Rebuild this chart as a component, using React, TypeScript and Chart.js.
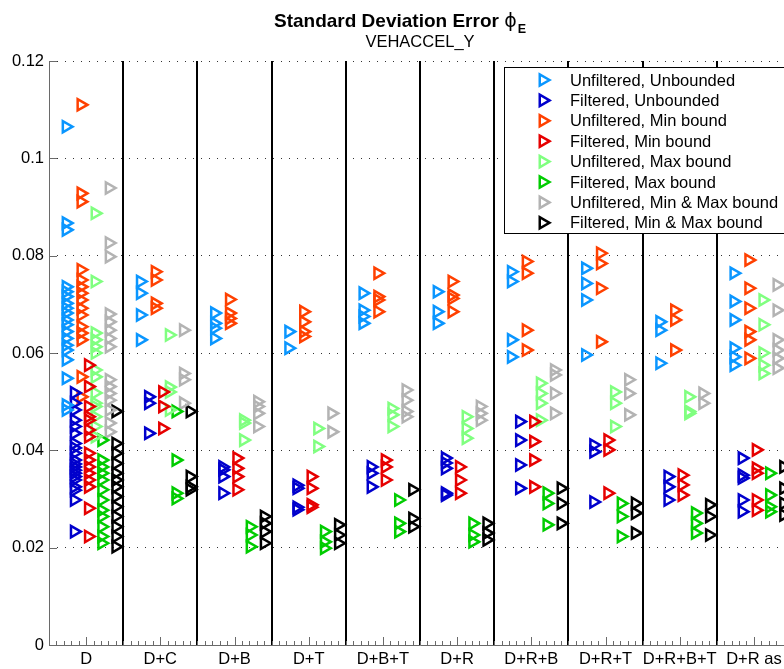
import React, { useEffect, useRef } from 'react';
import { Chart, registerables } from 'chart.js';

Chart.register(...registerables);

const categories = ['D', 'D+C', 'D+B', 'D+T', 'D+B+T', 'D+R', 'D+R+B', 'D+R+T', 'D+R+B+T', 'D+R as'];
const yTicks = [0, 0.02, 0.04, 0.06, 0.08, 0.1, 0.12];
const titleText = 'Standard Deviation Error ';
const titleSymbol = '\u03D5';
const titleSub = 'E';
const subtitleText = 'VEHACCEL_Y';
const seriesNames = [
  'Unfiltered, Unbounded',
  'Filtered, Unbounded',
  'Unfiltered, Min bound',
  'Filtered, Min bound',
  'Unfiltered, Max bound',
  'Filtered, Max bound',
  'Unfiltered, Min & Max bound',
  'Filtered, Min & Max bound',
];

// values per category (same order as categories)
const unfilteredUnbounded = [
  [0.1065, 0.0867, 0.0853, 0.0736, 0.0726, 0.0716, 0.0702, 0.0692, 0.0682, 0.0668, 0.0658, 0.0644, 0.063, 0.0616, 0.0606, 0.0586, 0.0548, 0.0493, 0.0483],
  [0.0747, 0.0723, 0.0678, 0.0627],
  [0.0682, 0.0661, 0.0651, 0.063],
  [0.0644, 0.061],
  [0.0723, 0.0688, 0.0675, 0.0661],
  [0.0726, 0.0685, 0.0661],
  [0.0767, 0.0747, 0.0627, 0.0592],
  [0.0774, 0.0743, 0.0709, 0.0596],
  [0.0664, 0.0647, 0.0579],
  [0.0764, 0.0706, 0.0668, 0.061, 0.0592, 0.0575],
];
const filteredUnbounded = [
  [0.0518, 0.0497, 0.0483, 0.0462, 0.0449, 0.0435, 0.0414, 0.0405, 0.0394, 0.038, 0.0372, 0.0366, 0.0359, 0.0353, 0.0346, 0.0339, 0.0325, 0.0318, 0.0298, 0.0233],
  [0.051, 0.0497, 0.0435],
  [0.0366, 0.036, 0.0346, 0.0312],
  [0.0328, 0.0322, 0.0283, 0.0278],
  [0.0366, 0.0353, 0.0325],
  [0.0384, 0.0374, 0.0363, 0.0312, 0.0308],
  [0.0459, 0.0421, 0.037, 0.0322],
  [0.0411, 0.0397, 0.0294],
  [0.0346, 0.0325, 0.0298],
  [0.0384, 0.0349, 0.0343, 0.0298, 0.0274],
];
const unfilteredMin = [
  [0.111, 0.0928, 0.0911, 0.0771, 0.075, 0.0736, 0.0723, 0.0709, 0.0692, 0.0678, 0.0654, 0.0641, 0.0627, 0.0551, 0.051],
  [0.0767, 0.075, 0.0702, 0.0692],
  [0.071, 0.0682, 0.0671, 0.0661],
  [0.0685, 0.0664, 0.0644, 0.0634],
  [0.0764, 0.0716, 0.0709, 0.0685],
  [0.0747, 0.0719, 0.0712, 0.0685],
  [0.0788, 0.0764, 0.0647, 0.0606],
  [0.0805, 0.0784, 0.0733, 0.0623],
  [0.0688, 0.0668, 0.0606],
  [0.0791, 0.0733, 0.0692, 0.0644, 0.0627, 0.0589],
];
const filteredMin = [
  [0.0575, 0.0531, 0.049, 0.0469, 0.0462, 0.0442, 0.0428, 0.0394, 0.038, 0.0366, 0.0353, 0.0339, 0.0325, 0.0281, 0.0223],
  [0.052, 0.049, 0.0445],
  [0.0384, 0.0363, 0.0346, 0.0319],
  [0.0346, 0.0322, 0.0288, 0.0283],
  [0.038, 0.0366, 0.0339],
  [0.0366, 0.0339, 0.0312],
  [0.0459, 0.0418, 0.038, 0.0325],
  [0.0421, 0.0401, 0.0312],
  [0.0349, 0.0329, 0.0308],
  [0.0401, 0.0363, 0.0353, 0.0298, 0.0277],
];
const unfilteredMax = [
  [0.0887, 0.0747, 0.0641, 0.0627, 0.0613, 0.06, 0.0565, 0.0551, 0.0518, 0.0497, 0.049, 0.0469, 0.0449, 0.0428],
  [0.0637, 0.053, 0.052, 0.0483],
  [0.0462, 0.0456, 0.0421],
  [0.0445, 0.0408],
  [0.0486, 0.0473, 0.0449],
  [0.0469, 0.0445, 0.0425],
  [0.0538, 0.0517, 0.0497, 0.0462],
  [0.052, 0.0497, 0.0449],
  [0.051, 0.048, 0.0476],
  [0.0709, 0.0658, 0.06, 0.0575, 0.0558],
];
const filteredMax = [
  [0.0421, 0.038, 0.0366, 0.0353, 0.0339, 0.0319, 0.0298, 0.0277, 0.0264, 0.0243, 0.0223, 0.0209],
  [0.048, 0.038, 0.0312, 0.0301],
  [0.0243, 0.0226, 0.0202],
  [0.0233, 0.0212, 0.0199],
  [0.0298, 0.025, 0.0233],
  [0.025, 0.0226, 0.0212],
  [0.0312, 0.0291, 0.0247],
  [0.0291, 0.0264, 0.0223],
  [0.0271, 0.025, 0.023],
  [0.0353, 0.0308, 0.0284, 0.0274],
];
const unfilteredMinMax = [
  [0.0939, 0.0826, 0.0798, 0.068, 0.0664, 0.0647, 0.063, 0.0613, 0.0545, 0.0531, 0.0517, 0.0503, 0.0483, 0.0456, 0.0438],
  [0.0647, 0.0558, 0.0545, 0.0497],
  [0.05, 0.049, 0.0476, 0.0449],
  [0.0476, 0.0438],
  [0.0524, 0.0503, 0.048, 0.0469],
  [0.049, 0.0476, 0.0462],
  [0.0565, 0.0555, 0.0517, 0.0476],
  [0.0545, 0.0517, 0.0473],
  [0.0517, 0.0497],
  [0.074, 0.0688, 0.0627, 0.0606, 0.0589, 0.0569],
];
const filteredMinMax = [
  [0.048, 0.0414, 0.0394, 0.0373, 0.0353, 0.0339, 0.0325, 0.0305, 0.0284, 0.0264, 0.0243, 0.0223, 0.0202],
  [0.048, 0.0346, 0.0325, 0.0319],
  [0.0264, 0.025, 0.0233, 0.0209],
  [0.0247, 0.0226, 0.0209],
  [0.0319, 0.026, 0.0243],
  [0.025, 0.023, 0.0216],
  [0.0322, 0.0291, 0.025],
  [0.0291, 0.0271, 0.023],
  [0.0288, 0.0264, 0.0226],
  [0.0366, 0.0322, 0.0291, 0.0267],
];

const seriesValues = [
  unfilteredUnbounded, filteredUnbounded, unfilteredMin, filteredMin,
  unfilteredMax, filteredMax, unfilteredMinMax, filteredMinMax,
];

// style: colour and horizontal dodge within each category
const seriesColors = ['#0A96FF', '#0000CC', '#FF4000', '#E60000', '#80FF80', '#00CC00', '#B3B3B3', '#000000'];
const seriesDodge = [-0.27, -0.16, -0.07, 0.03, 0.12, 0.21, 0.31, 0.4];

const FONT = '"Liberation Sans", Arial, Helvetica, sans-serif';
const MARKER_R = 6.5;
const MARKER_W = 2.5;

function drawTri(ctx: CanvasRenderingContext2D, cx: number, cy: number, r: number) {
  ctx.beginPath();
  ctx.moveTo(cx + r, cy);
  ctx.lineTo(cx - r / 2, cy - r * 0.866);
  ctx.lineTo(cx - r / 2, cy + r * 0.866);
  ctx.closePath();
  ctx.stroke();
}

const matlabPlugin = {
  id: 'matlabLook',
  beforeDatasetsDraw(chart: any) {
    const { ctx, chartArea: a, scales } = chart;
    const x = scales.x;
    ctx.save();
    ctx.strokeStyle = '#000';
    ctx.lineWidth = 2;
    for (let i = 1; i < categories.length; i++) {
      const px = Math.round(x.getPixelForValue(i + 0.5));
      ctx.beginPath();
      ctx.moveTo(px, a.top);
      ctx.lineTo(px, a.bottom);
      ctx.stroke();
    }
    ctx.restore();
  },
  afterDatasetsDraw(chart: any) {
    const { ctx, chartArea: a, scales } = chart;
    const x = scales.x;
    const y = scales.y;
    ctx.save();
    ctx.strokeStyle = '#6a6a6a';
    ctx.lineWidth = 1;
    ctx.beginPath();
    ctx.moveTo(a.left + 0.5, a.top);
    ctx.lineTo(a.left + 0.5, a.bottom + 0.5);
    ctx.lineTo(a.right, a.bottom + 0.5);
    ctx.stroke();
    yTicks.forEach((v) => {
      const py = Math.round(y.getPixelForValue(v)) + 0.5;
      ctx.beginPath();
      ctx.moveTo(a.left, py);
      ctx.lineTo(a.left + 8, py);
      ctx.stroke();
    });
    const n = categories.length;
    for (let k = 0; k <= n * 10; k++) {
      const v = 0.5 + k / 10;
      const px = Math.round(x.getPixelForValue(v)) + 0.5;
      const major = k % 10 === 5;
      ctx.beginPath();
      ctx.moveTo(px, a.bottom);
      ctx.lineTo(px, a.bottom - (major ? 8 : 4));
      ctx.stroke();
    }
    ctx.restore();
  },
  afterDraw(chart: any) {
    const { ctx, chartArea: a } = chart;
    ctx.save();
    const cx = (a.left + a.right) / 2;
    const start = cx - 146;
    ctx.fillStyle = '#000';
    ctx.textBaseline = 'alphabetic';
    ctx.textAlign = 'left';
    ctx.font = `bold 19px ${FONT}`;
    ctx.fillText(titleText, start, 27);
    const w1 = ctx.measureText(titleText).width;
    ctx.font = `19px "DejaVu Sans", ${FONT}`;
    ctx.fillText(titleSymbol, start + w1, 27);
    const w2 = ctx.measureText(titleSymbol).width;
    ctx.font = `bold 12.5px ${FONT}`;
    ctx.fillText(titleSub, start + w1 + w2 + 1, 33);
    ctx.font = `16.5px ${FONT}`;
    ctx.textAlign = 'center';
    ctx.fillText(subtitleText, cx, 47);

    const lx = a.left + 455;
    const ly = a.top + 6;
    const lw = a.right - 6 - lx;
    const lh = 166;
    ctx.fillStyle = '#fff';
    ctx.fillRect(lx, ly, lw, lh);
    ctx.strokeStyle = '#000';
    ctx.lineWidth = 1;
    ctx.strokeRect(lx + 0.5, ly + 0.5, lw, lh);
    ctx.font = `16.5px ${FONT}`;
    ctx.textAlign = 'left';
    ctx.textBaseline = 'middle';
    seriesNames.forEach((name, k) => {
      const cy = ly + 13 + k * 20.4;
      ctx.strokeStyle = seriesColors[k];
      ctx.lineWidth = MARKER_W;
      drawTri(ctx, lx + 39, cy, MARKER_R);
      ctx.fillStyle = '#000';
      ctx.fillText(name, lx + 66, cy + 1);
    });
    ctx.restore();
  },
};

export default function App() {
  const canvasRef = useRef<HTMLCanvasElement | null>(null);

  useEffect(() => {
    const canvas = canvasRef.current;
    if (!canvas) return;
    const datasets = seriesValues.map((vals, s) => ({
      label: seriesNames[s],
      data: vals.flatMap((list, ci) => list.map((v) => ({ x: ci + 1 + seriesDodge[s], y: v }))),
      showLine: false,
      pointStyle: 'triangle',
      pointRotation: 90,
      pointRadius: MARKER_R,
      pointBorderWidth: MARKER_W,
      borderColor: seriesColors[s],
      pointBorderColor: seriesColors[s],
      backgroundColor: 'rgba(0,0,0,0)',
      pointBackgroundColor: 'rgba(0,0,0,0)',
    }));
    const chart = new Chart(canvas, {
      type: 'scatter',
      data: { datasets } as any,
      plugins: [matlabPlugin],
      options: {
        responsive: false,
        animation: false,
        devicePixelRatio: 1,
        events: [],
        layout: { padding: { top: 61, right: 8, left: 0, bottom: 0 } },
        plugins: {
          legend: { display: false },
          title: { display: false },
          tooltip: { enabled: false },
        },
        scales: {
          x: {
            type: 'linear',
            min: 0.5,
            max: categories.length + 0.5,
            afterBuildTicks: (s: any) => {
              s.ticks = categories.map((_, i) => ({ value: i + 1 }));
            },
            afterFit: (s: any) => {
              s.height = 24;
            },
            grid: { display: false, drawTicks: false },
            border: { display: false },
            ticks: {
              autoSkip: false,
              maxRotation: 0,
              minRotation: 0,
              padding: 5,
              color: '#000',
              font: { family: FONT, size: 16.5 },
              callback: (v: any) => categories[Math.round(Number(v)) - 1] ?? '',
            },
          },
          y: {
            type: 'linear',
            min: 0,
            max: 0.12,
            afterBuildTicks: (s: any) => {
              s.ticks = yTicks.map((v) => ({ value: v }));
            },
            afterFit: (s: any) => {
              s.width = 49;
            },
            grid: { color: '#333', lineWidth: 1, drawTicks: false },
            border: { display: false, dash: [1, 7] },
            ticks: {
              padding: 5,
              color: '#000',
              font: { family: FONT, size: 16.5 },
              callback: (v: any) => String(Number(Number(v).toFixed(2))),
            },
          },
        },
      } as any,
    });
    return () => chart.destroy();
  }, []);

  return (
    <div style={{ position: 'fixed', left: 0, top: 0, width: 784, height: 669, overflow: 'hidden', background: '#fff' }}>
      <canvas ref={canvasRef} width={800} height={669} style={{ display: 'block' }} />
    </div>
  );
}
